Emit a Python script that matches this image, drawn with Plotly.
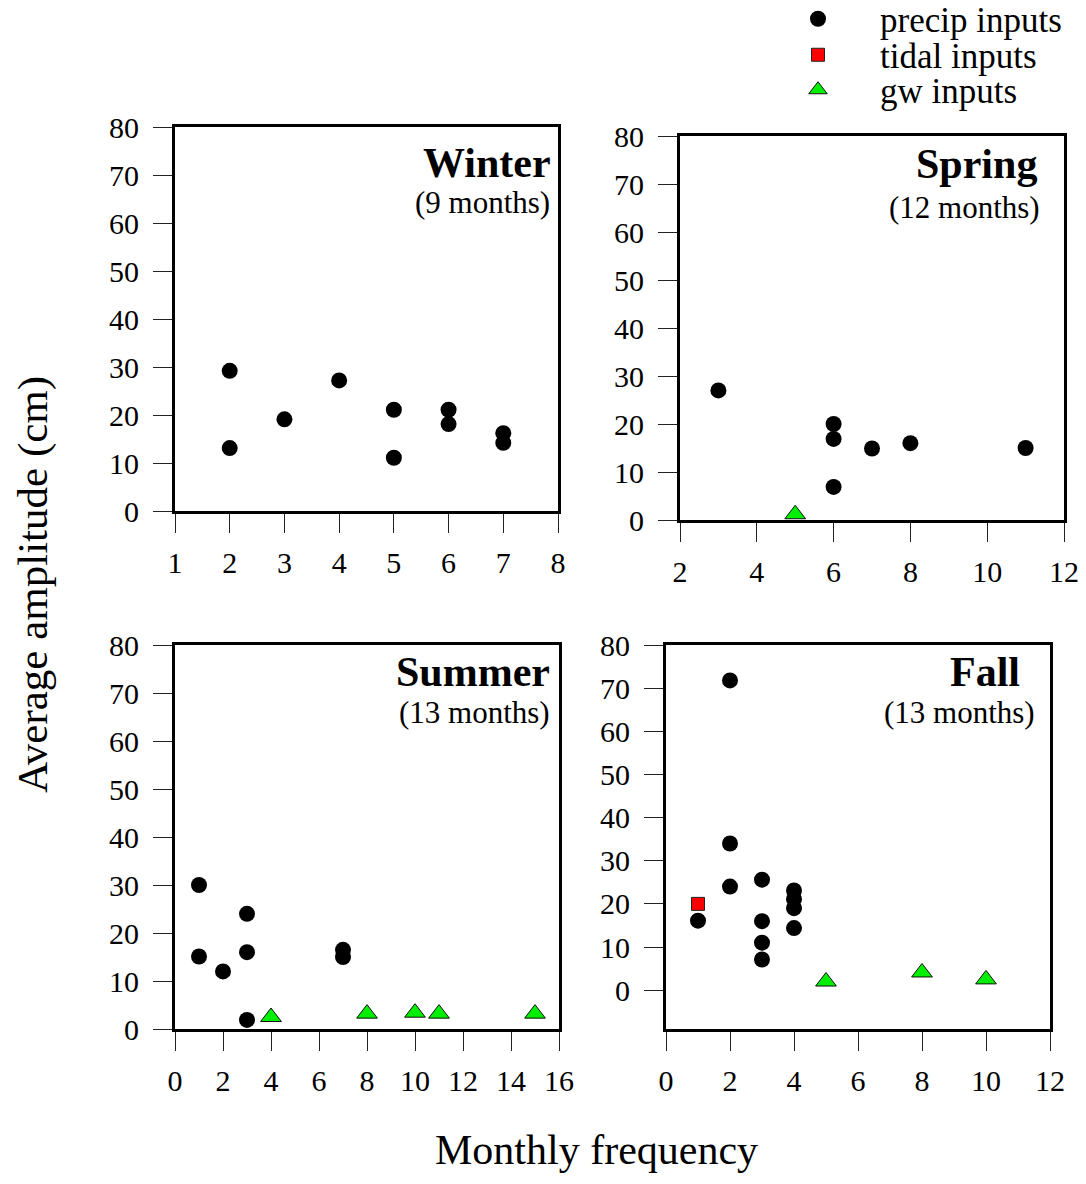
import plotly.graph_objects as go

W, H = 1086, 1184
FONT = "Liberation Serif"

# ---- data: monthly frequency vs. average amplitude (cm) ----
winter_precip_x = [2, 2, 3, 4, 5, 5, 6, 6, 7, 7]
winter_precip_y = [29.2, 13.1, 19.1, 27.2, 21.1, 11.1, 21.1, 18.1, 16.2, 14.2]

spring_precip_x = [3, 6, 6, 6, 7, 8, 11]
spring_precip_y = [27.0, 20.0, 16.9, 6.9, 14.9, 16.0, 15.0]
spring_gw_x = [5]
spring_gw_y = [1.2]

summer_precip_x = [1, 1, 2, 3, 3, 3, 7, 7]
summer_precip_y = [30.0, 15.1, 12.0, 24.0, 16.0, 1.9, 16.5, 15.0]
summer_gw_x = [4, 8, 10, 11, 15]
summer_gw_y = [2.5, 3.2, 3.4, 3.2, 3.2]

fall_precip_x = [1, 2, 2, 2, 3, 3, 3, 3, 4, 4, 4, 4]
fall_precip_y = [16.1, 71.8, 34.0, 24.0, 25.6, 16.0, 11.0, 7.1, 23.1, 21.1, 19.0, 14.4]
fall_tidal_x = [1]
fall_tidal_y = [20.0]
fall_gw_x = [5, 8, 10]
fall_gw_y = [2.0, 4.1, 2.5]

seasons = ["Winter", "Spring", "Summer", "Fall"]
season_months = ["(9 months)", "(12 months)", "(13 months)", "(13 months)"]
y_ticks = [0, 10, 20, 30, 40, 50, 60, 70, 80]

series_names = ["precip inputs", "tidal inputs", "gw inputs"]


def px_x(p):
    return p / W


def px_y(p):
    return 1 - p / H


# panel geometry (pixels: left, right, top, bottom) and axis settings
panels = [
    dict(box=(175, 558, 127, 511), xr=[1, 8], dt=1, yr=[0, 80],
         title_xy=(553, 163), sub_xy=(552, 202)),
    dict(box=(680, 1064, 136, 520), xr=[2, 12], dt=2, yr=[0, 80],
         title_xy=(1039, 164), sub_xy=(1042, 208)),
    dict(box=(175, 559, 645, 1029), xr=[0, 16], dt=2, yr=[0, 80],
         title_xy=(552, 672), sub_xy=(552, 712)),
    dict(box=(666, 1050, 645, 1029), xr=[0, 12], dt=2, yr=[-9, 80],
         title_xy=(1022, 672), sub_xy=(1037, 712)),
]

panel_data = [
    dict(precip=(winter_precip_x, winter_precip_y)),
    dict(precip=(spring_precip_x, spring_precip_y), gw=(spring_gw_x, spring_gw_y)),
    dict(precip=(summer_precip_x, summer_precip_y), gw=(summer_gw_x, summer_gw_y)),
    dict(precip=(fall_precip_x, fall_precip_y), tidal=(fall_tidal_x, fall_tidal_y),
         gw=(fall_gw_x, fall_gw_y)),
]

marker_styles = {
    "precip": dict(symbol="circle", size=16, color="black", line=dict(width=0)),
    "tidal": dict(symbol="square", size=13, color="#ff0000", line=dict(width=1, color="#222")),
    "gw": dict(symbol="triangle-up", size=18, color="#00ee00", line=dict(width=1, color="#111")),
}
legend_of = {"precip": "legend", "tidal": "legend2", "gw": "legend3"}
label_of = {"precip": series_names[0], "tidal": series_names[1], "gw": series_names[2]}

fig = go.Figure()
shown = set()
for i, (pan, dat) in enumerate(zip(panels, panel_data)):
    ax = "" if i == 0 else str(i + 1)
    for key in ["precip", "tidal", "gw"]:
        if key not in dat:
            continue
        xs, ys = dat[key]
        show = key not in shown
        shown.add(key)
        fig.add_trace(go.Scatter(
            x=xs, y=ys, mode="markers", marker=marker_styles[key],
            name=label_of[key], legend=legend_of[key], showlegend=show,
            xaxis="x" + ax, yaxis="y" + ax, cliponaxis=False,
        ))

    l, r, t, b = pan["box"]
    axis_common = dict(
        showline=True, linewidth=3, linecolor="black", mirror=True,
        ticks="outside", ticklen=19, tickwidth=1, tickcolor="#222",
        showgrid=False, zeroline=False, automargin=False,
        tickfont=dict(family=FONT, size=30, color="black"),
    )
    fig.update_layout(**{
        "xaxis" + ax: dict(domain=[px_x(l), px_x(r)], range=pan["xr"], dtick=pan["dt"],
                           tick0=0, anchor="y" + ax, ticklabelstandoff=4, **axis_common),
        "yaxis" + ax: dict(domain=[px_y(b), px_y(t)], range=pan["yr"], tickvals=y_ticks,
                           anchor="x" + ax, ticklabelstandoff=8, **axis_common),
    })

    tx, ty = pan["title_xy"]
    fig.add_annotation(x=px_x(tx), y=px_y(ty), xref="paper", yref="paper",
                       text="<b>" + seasons[i] + "</b>", showarrow=False,
                       xanchor="right", yanchor="middle",
                       font=dict(family=FONT, size=42, color="black"))
    sx, sy = pan["sub_xy"]
    fig.add_annotation(x=px_x(sx), y=px_y(sy), xref="paper", yref="paper",
                       text=season_months[i], showarrow=False,
                       xanchor="right", yanchor="middle",
                       font=dict(family=FONT, size=31, color="black"))

# shared axis titles
fig.add_annotation(x=px_x(33), y=px_y(585), xref="paper", yref="paper",
                   text="Average amplitude (cm)", textangle=-90, showarrow=False,
                   xanchor="center", yanchor="middle",
                   font=dict(family=FONT, size=43, color="black"))
fig.add_annotation(x=px_x(596), y=px_y(1150), xref="paper", yref="paper",
                   text="Monthly frequency", showarrow=False,
                   xanchor="center", yanchor="middle",
                   font=dict(family=FONT, size=42, color="black"))

# one legend per series so the rows can sit close together
legend_common = dict(font=dict(family=FONT, size=35, color="black"),
                     bgcolor="rgba(0,0,0,0)", borderwidth=0, itemwidth=114,
                     xref="container", yref="container",
                     xanchor="left", yanchor="middle")
leg_x = px_x(756)
fig.update_layout(
    legend=dict(x=leg_x, y=px_y(19), **legend_common),
    legend2=dict(x=leg_x, y=px_y(55), **legend_common),
    legend3=dict(x=leg_x, y=px_y(90), **legend_common),
)

fig.update_layout(
    width=W, height=H,
    margin=dict(l=0, r=0, t=0, b=0, autoexpand=False),
    paper_bgcolor="white", plot_bgcolor="white",
)

fig.write_html("out.html")
